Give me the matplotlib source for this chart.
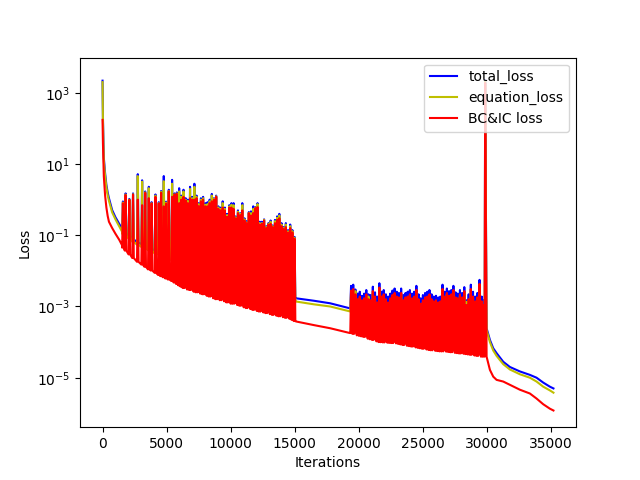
import numpy as np
import matplotlib
matplotlib.use("Agg")
import matplotlib.pyplot as plt
from matplotlib.ticker import NullLocator

# ---------------- data ----------------
# smooth start segment (shared x)
head_x = [0, 30, 100, 200, 300, 400, 500, 750, 1010, 1300, 1530]
total_head = [2200, 200, 15, 5.5, 2.6, 1.6, 1.1, 0.51, 0.32, 0.21, 0.15]
eq_head = [2000, 170, 12, 4.6, 2.2, 1.35, 0.93, 0.44, 0.28, 0.18, 0.125]
bc_head = [174, 40, 4.5, 1.3, 0.6, 0.35, 0.24, 0.16, 0.11, 0.075, 0.052]

# first oscillating phase: spike positions, peaks and troughs
r1_x = [1590, 1800, 2090, 2380, 2750, 3090, 3330, 3610, 3830, 4130, 4390,
        4570, 4780, 4960, 5170, 5430, 5620, 5800, 5980,
        6150, 6320, 6490, 6660, 6830, 7000, 7170, 7340, 7510, 7680,
        7850, 8020, 8190, 8360, 8530, 8700, 8870, 9040, 9210, 9380,
        9550, 9720, 9890, 10060, 10230, 10400, 10570, 10740, 10910, 11080,
        11250, 11420, 11590, 11760, 11930, 12100, 12270, 12440, 12610, 12780,
        12950, 13120, 13290, 13460, 13630, 13800, 13970, 14140, 14310, 14480,
        14650, 14820, 14990]
total_r1_peak = [0.89, 1.5, 1.05, 1.5, 5.2, 3.5, 1.7, 2.3, 0.85, 1.4, 0.85,
                 1.75, 4.6, 0.88, 1.9, 3.6, 1.5, 1.6, 2.1,
                 1.3, 1.9, 1.1, 1.0, 2.3, 1.2, 2.8, 1.3, 0.8, 1.1,
                 1.2, 0.8, 0.85, 1.0, 1.45, 1.1, 1.3, 0.65, 0.6, 0.9,
                 0.6, 0.4, 0.7, 0.8, 0.8, 0.34, 0.5, 0.42, 0.8, 0.3,
                 0.25, 0.45, 0.47, 0.65, 0.62, 0.8, 0.24, 0.24, 0.28, 0.18,
                 0.22, 0.26, 0.19, 0.27, 0.34, 0.4, 0.22, 0.17, 0.22, 0.14,
                 0.2, 0.14, 0.09]
eq_r1_peak = [0.83, 1.4, 1.0, 1.42, 4.6, 3.2, 1.6, 2.1, 0.8, 1.3, 0.8,
              1.65, 3.3, 0.83, 1.75, 2.8, 1.4, 1.5, 1.7,
              1.2, 1.7, 1.0, 0.92, 2.0, 1.1, 2.3, 1.2, 0.75, 1.0,
              1.1, 0.72, 0.75, 0.9, 1.3, 1.05, 1.25, 0.6, 0.55, 0.8,
              0.55, 0.37, 0.65, 0.72, 0.7, 0.32, 0.46, 0.4, 0.7, 0.28,
              0.23, 0.43, 0.42, 0.55, 0.6, 0.75, 0.22, 0.22, 0.27, 0.17,
              0.21, 0.24, 0.18, 0.25, 0.31, 0.36, 0.2, 0.16, 0.2, 0.13,
              0.18, 0.13, 0.085]
bc_r1_peak = [0.79, 1.35, 0.98, 1.38, 1.0, 0.7, 1.55, 1.1, 0.78, 1.2, 0.78,
              1.55, 0.65, 0.78, 1.7, 1.2, 1.4, 1.45, 0.8,
              1.0, 1.2, 0.95, 0.8, 1.1, 1.0, 1.0, 1.1, 0.66, 0.9,
              1.0, 0.65, 0.65, 0.8, 0.9, 1.0, 1.2, 0.55, 0.5, 0.6,
              0.5, 0.33, 0.6, 0.6, 0.55, 0.3, 0.42, 0.37, 0.5, 0.26,
              0.22, 0.42, 0.36, 0.42, 0.58, 0.62, 0.2, 0.21, 0.26, 0.16,
              0.2, 0.21, 0.17, 0.22, 0.27, 0.3, 0.18, 0.15, 0.17, 0.12,
              0.16, 0.12, 0.08]
total_r1_low = [0.13, 0.11, 0.095, 0.077, 0.063, 0.055, 0.05, 0.045, 0.041, 0.037, 0.034,
                0.032, 0.030, 0.028, 0.026, 0.024, 0.022, 0.021, 0.019,
                0.018, 0.017, 0.016, 0.015, 0.0143, 0.0137, 0.013, 0.0123, 0.0117, 0.0112,
                0.0107, 0.0103, 0.0098, 0.0093, 0.0089, 0.0085, 0.0081, 0.0077, 0.0073, 0.007,
                0.0067, 0.0064, 0.0061, 0.0059, 0.0056, 0.0053, 0.0051, 0.0049, 0.0047, 0.0045,
                0.0043, 0.0041, 0.0039, 0.0037, 0.0036, 0.0035, 0.0033, 0.0032, 0.0031, 0.0029,
                0.0028, 0.0027, 0.0026, 0.0025, 0.0024, 0.0023, 0.0022, 0.0021, 0.002, 0.0019,
                0.00185, 0.0018, 0.0017]
eq_r1_low = [0.11, 0.094, 0.081, 0.066, 0.054, 0.047, 0.043, 0.038, 0.035, 0.031, 0.029,
             0.027, 0.025, 0.024, 0.022, 0.020, 0.0185, 0.0175, 0.016,
             0.015, 0.0142, 0.0134, 0.0125, 0.0119, 0.0113, 0.0107, 0.0101, 0.0096, 0.0092,
             0.0088, 0.0084, 0.008, 0.0076, 0.0072, 0.0069, 0.0066, 0.0062, 0.0059, 0.0056,
             0.0054, 0.0051, 0.0049, 0.0047, 0.0045, 0.0042, 0.0041, 0.0039, 0.0037, 0.0036,
             0.0034, 0.0032, 0.0031, 0.0029, 0.0028, 0.0027, 0.0026, 0.0025, 0.0024, 0.0023,
             0.0022, 0.0021, 0.002, 0.0019, 0.00185, 0.0018, 0.0017, 0.00165, 0.0016, 0.0015,
             0.00145, 0.0014, 0.00135]
bc_r1_low = [0.045, 0.037, 0.029, 0.023, 0.018, 0.015, 0.013, 0.011, 0.0102, 0.0088, 0.0077,
             0.0071, 0.0066, 0.0061, 0.0057, 0.0052, 0.0047, 0.0043, 0.0039,
             0.0036, 0.0033, 0.0034, 0.0030, 0.0029, 0.0030, 0.0026, 0.0025, 0.0026, 0.0023,
             0.0022, 0.0023, 0.0020, 0.0019, 0.0020, 0.0017, 0.0016, 0.0017, 0.0015, 0.0016,
             0.0014, 0.0013, 0.0015, 0.0012, 0.0012, 0.0013, 0.0011, 0.00105, 0.0012, 0.00095,
             0.0009, 0.001, 0.00085, 0.0008, 0.0009, 0.00075, 0.00072, 0.0008, 0.00068, 0.00065,
             0.00072, 0.00061, 0.00058, 0.00065, 0.00055, 0.00053, 0.0006, 0.0005, 0.00048, 0.00055,
             0.00045, 0.00042, 0.00039]

# quiet segment between the two oscillating phases
gap_x = [15100, 16500, 17770, 19300]
total_gap = [1.7e-3, 1.45e-3, 1.23e-3, 8.9e-4]
eq_gap = [1.38e-3, 1.15e-3, 1.0e-3, 7.3e-4]
bc_gap = [3.8e-4, 3.0e-4, 2.45e-4, 1.8e-4]

# second oscillating phase
r2_x = [19400, 19570, 19740, 19910, 20080, 20250, 20420, 20590, 20760, 20930,
        21100, 21270, 21440, 21610, 21780, 21950, 22120, 22290, 22460, 22630,
        22800, 22970, 23140, 23310, 23480, 23650, 23820, 23990, 24160, 24330,
        24500, 24670, 24840, 25010, 25180, 25350, 25520, 25690, 25860, 26030,
        26200, 26370, 26540, 26710, 26880, 27050, 27220, 27390, 27560, 27730,
        27900, 28070, 28240, 28410, 28580, 28750, 28920, 29090, 29260, 29430,
        29600, 29770]
total_r2_peak = [3.8e-3, 4.1e-3, 3.0e-3, 2.3e-3, 2.6e-3, 2.0e-3, 2.3e-3, 2.9e-3, 2.2e-3, 2.1e-3,
                 3.6e-3, 2.5e-3, 1.9e-3, 4.5e-3, 2.6e-3, 2.9e-3, 2.2e-3, 1.9e-3, 2.3e-3, 2.8e-3,
                 3.2e-3, 2.6e-3, 2.4e-3, 3.2e-3, 2.1e-3, 2.4e-3, 2.6e-3, 2.9e-3, 2.3e-3, 2.6e-3,
                 3.8e-3, 2.2e-3, 1.7e-3, 2.1e-3, 2.4e-3, 2.6e-3, 2.9e-3, 2.2e-3, 1.9e-3, 2.0e-3,
                 1.8e-3, 1.9e-3, 4.1e-3, 2.6e-3, 3.2e-3, 2.7e-3, 2.9e-3, 3.8e-3, 2.5e-3, 2.3e-3,
                 2.9e-3, 2.4e-3, 3.5e-3, 1.5e-3, 2.2e-3, 4.1e-3, 2.6e-3, 1.9e-3, 2.4e-3, 5.6e-3,
                 1.9e-3, 1.5e-3]
eq_r2_peak = [2.5e-3, 2.8e-3, 2.7e-3, 1.45e-3, 1.7e-3, 1.35e-3, 1.5e-3, 2.0e-3, 1.9e-3, 1.35e-3,
              2.4e-3, 1.7e-3, 1.2e-3, 3.0e-3, 1.7e-3, 2.0e-3, 1.45e-3, 1.2e-3, 1.5e-3, 1.9e-3,
              2.2e-3, 1.7e-3, 1.6e-3, 2.2e-3, 1.35e-3, 1.6e-3, 1.7e-3, 2.0e-3, 1.5e-3, 1.7e-3,
              2.6e-3, 1.45e-3, 1.1e-3, 1.35e-3, 1.6e-3, 1.7e-3, 2.0e-3, 1.45e-3, 1.25e-3, 1.35e-3,
              1.2e-3, 1.25e-3, 2.8e-3, 1.7e-3, 2.2e-3, 1.8e-3, 2.0e-3, 2.6e-3, 1.6e-3, 1.5e-3,
              2.0e-3, 1.6e-3, 2.4e-3, 1.35e-3, 1.45e-3, 2.8e-3, 1.7e-3, 1.25e-3, 1.6e-3, 3.9e-3,
              1.25e-3, 1.0e-3]
bc_r2_peak = [2.8e-3, 3.1e-3, 2.2e-3, 1.6e-3, 1.9e-3, 1.5e-3, 1.7e-3, 2.2e-3, 1.6e-3, 1.5e-3,
              2.7e-3, 1.9e-3, 1.3e-3, 3.4e-3, 1.9e-3, 2.2e-3, 1.6e-3, 1.3e-3, 1.7e-3, 2.1e-3,
              2.4e-3, 1.9e-3, 1.8e-3, 2.4e-3, 1.5e-3, 1.8e-3, 1.9e-3, 2.2e-3, 1.7e-3, 1.9e-3,
              2.9e-3, 1.6e-3, 1.2e-3, 1.5e-3, 1.8e-3, 1.9e-3, 2.2e-3, 1.6e-3, 1.4e-3, 1.5e-3,
              1.3e-3, 1.4e-3, 3.1e-3, 1.9e-3, 2.4e-3, 2.0e-3, 2.2e-3, 2.9e-3, 1.8e-3, 1.7e-3,
              2.2e-3, 1.8e-3, 2.7e-3, 1.1e-3, 1.6e-3, 3.1e-3, 1.9e-3, 1.4e-3, 1.8e-3, 4.3e-3,
              1.4e-3, 1.1e-3]
total_r2_low = [8.9e-4, 8.7e-4, 8.5e-4, 8.3e-4, 8.2e-4, 8.0e-4, 7.8e-4, 7.6e-4, 7.5e-4, 7.3e-4,
                7.2e-4, 7.0e-4, 6.9e-4, 6.7e-4, 6.6e-4, 6.5e-4, 6.3e-4, 6.2e-4, 6.1e-4, 5.9e-4,
                5.8e-4, 5.7e-4, 5.6e-4, 5.5e-4, 5.4e-4, 5.2e-4, 5.1e-4, 5.0e-4, 4.9e-4, 4.8e-4,
                4.7e-4, 4.6e-4, 4.5e-4, 4.4e-4, 4.3e-4, 4.2e-4, 4.1e-4, 4.0e-4, 3.9e-4, 3.85e-4,
                3.8e-4, 3.7e-4, 3.6e-4, 3.55e-4, 3.5e-4, 3.4e-4, 3.35e-4, 3.3e-4, 3.2e-4, 3.15e-4,
                3.1e-4, 3.0e-4, 2.95e-4, 2.9e-4, 2.85e-4, 2.8e-4, 2.75e-4, 2.7e-4, 2.65e-4, 2.6e-4,
                2.55e-4, 2.5e-4]
eq_r2_low = [7.4e-4, 7.2e-4, 7.0e-4, 6.9e-4, 6.8e-4, 6.6e-4, 6.5e-4, 6.3e-4, 6.2e-4, 6.1e-4,
             6.0e-4, 5.8e-4, 5.7e-4, 5.6e-4, 5.5e-4, 5.4e-4, 5.2e-4, 5.1e-4, 5.0e-4, 4.9e-4,
             4.8e-4, 4.7e-4, 4.6e-4, 4.5e-4, 4.4e-4, 4.3e-4, 4.2e-4, 4.1e-4, 4.0e-4, 3.9e-4,
             3.85e-4, 3.8e-4, 3.7e-4, 3.6e-4, 3.5e-4, 3.45e-4, 3.4e-4, 3.3e-4, 3.2e-4, 3.15e-4,
             3.1e-4, 3.0e-4, 2.95e-4, 2.9e-4, 2.85e-4, 2.8e-4, 2.75e-4, 2.7e-4, 2.6e-4, 2.55e-4,
             2.5e-4, 2.45e-4, 2.4e-4, 2.35e-4, 2.3e-4, 2.25e-4, 2.2e-4, 2.2e-4, 2.15e-4, 2.1e-4,
             2.05e-4, 2.0e-4]
bc_r2_low = [1.8e-4, 1.7e-4, 2.0e-4, 1.55e-4, 1.5e-4, 1.45e-4, 1.4e-4, 1.6e-4, 1.25e-4, 1.2e-4,
             1.15e-4, 1.35e-4, 1.05e-4, 1.0e-4, 1.0e-4, 9.8e-5, 1.2e-4, 9.6e-5, 9.5e-5, 9.4e-5,
             1.1e-4, 9.2e-5, 8.9e-5, 8.6e-5, 8.3e-5, 1.0e-4, 7.9e-5, 7.7e-5, 7.5e-5, 9.0e-5,
             7.1e-5, 6.9e-5, 6.7e-5, 6.5e-5, 8.0e-5, 6.2e-5, 6.0e-5, 5.9e-5, 7.0e-5, 5.7e-5,
             5.6e-5, 5.5e-5, 5.5e-5, 6.5e-5, 5.4e-5, 5.3e-5, 5.2e-5, 6.5e-5, 5.0e-5, 4.9e-5,
             4.8e-5, 6.0e-5, 4.7e-5, 4.6e-5, 4.5e-5, 4.4e-5, 5.5e-5, 4.2e-5, 4.1e-5, 5.0e-5,
             3.9e-5, 3.9e-5]

# the large spike near 30000 iterations
jump_x = [29870]
total_jump = [2300]
eq_jump = [2100]
bc_jump = [1900]

# final smooth segment
tail_x = [29980, 30240, 30500, 30760, 31280, 31800, 32580, 33360, 33880, 34400, 34920, 35200]
total_tail = [2.45e-4, 1.15e-4, 6.7e-5, 4.9e-5, 2.8e-5, 2.0e-5, 1.5e-5, 1.2e-5, 1.0e-5, 7.3e-6, 5.6e-6, 5.0e-6]
eq_tail = [2.2e-4, 1.0e-4, 5.8e-5, 4.1e-5, 2.4e-5, 1.7e-5, 1.25e-5, 1.0e-5, 7.8e-6, 5.6e-6, 4.4e-6, 3.8e-6]
bc_tail = [3.9e-5, 1.66e-5, 1.07e-5, 8.7e-6, 7.8e-6, 6.3e-6, 4.6e-6, 3.6e-6, 2.6e-6, 1.8e-6, 1.35e-6, 1.2e-6]

labels = ["total_loss", "equation_loss", "BC&IC loss"]
colors = ["b", "y", "r"]

# ---------------- assembly ----------------
SPIKE_HALF_WIDTH = 60  # drawing width of one oscillation spike (iterations)


def spikes(xs, peaks, lows):
    px, py = [], []
    for x, p, t in zip(xs, peaks, lows, strict=True):
        px += [x - SPIKE_HALF_WIDTH, x, x + SPIKE_HALF_WIDTH]
        py += [t, p, t]
    return px, py


def series(head, r1p, r1l, gap, r2p, r2l, jump, tail):
    s1x, s1y = spikes(r1_x, r1p, r1l)
    s2x, s2y = spikes(r2_x, r2p, r2l)
    xs = list(head_x) + s1x + list(gap_x) + s2x + list(jump_x) + list(tail_x)
    ys = list(head) + s1y + list(gap) + s2y + list(jump) + list(tail)
    return np.array(xs, dtype=float), np.array(ys, dtype=float)


data = [
    series(total_head, total_r1_peak, total_r1_low, total_gap,
           total_r2_peak, total_r2_low, total_jump, total_tail),
    series(eq_head, eq_r1_peak, eq_r1_low, eq_gap,
           eq_r2_peak, eq_r2_low, eq_jump, eq_tail),
    series(bc_head, bc_r1_peak, bc_r1_low, bc_gap,
           bc_r2_peak, bc_r2_low, bc_jump, bc_tail),
]

fig, ax = plt.subplots(figsize=(6.4, 4.8), dpi=100)
for (x, y), lab, c in zip(data, labels, colors):
    ax.plot(x, y, color=c, label=lab, linewidth=1.5)

ax.set_yscale("log")
ax.set_ylim(10 ** -6.39, 10 ** 3.99)
ax.yaxis.set_minor_locator(NullLocator())
ax.set_xlabel("Iterations")
ax.set_ylabel("Loss")
ax.legend(loc="upper right")

fig.savefig("out.png", dpi=100)
